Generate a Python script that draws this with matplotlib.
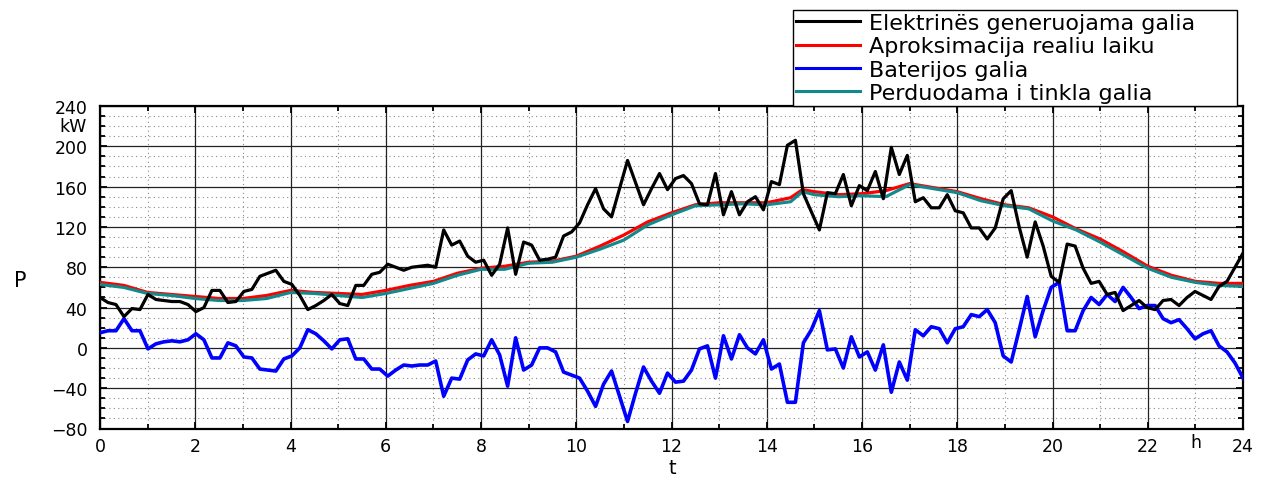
import numpy as np
import matplotlib
matplotlib.use('Agg')
import matplotlib.pyplot as plt
from matplotlib.ticker import MultipleLocator

plt.rcParams['font.family'] = ['DejaVu Sans']

# ---- data ----
n_samples = 144
sample_hours = np.linspace(0, 24, n_samples)

generated = [50, 45, 43, 31, 39, 38, 53, 48, 47, 46, 46, 43, 36, 40, 57, 57, 45, 46, 56, 58, 71,
             74, 77, 66, 63, 52, 38, 42, 47, 53, 44, 42, 62, 62, 73, 75, 83, 80, 77, 80, 81,
             82, 80, 117, 102, 106, 91, 85, 87, 72, 83, 119, 73, 105, 102, 87, 88, 90, 111, 115, 124,
             142, 158, 138, 130, 158, 186, 164, 142, 158, 173, 157, 168, 171, 163, 143, 142, 173, 132, 155, 132,
             145, 150, 137, 165, 162, 201, 206, 153, 135, 117, 154, 153, 172, 141, 161, 156, 175, 148, 199, 172,
             191, 145, 149, 139, 139, 152, 136, 134, 119, 119, 108, 119, 148, 156, 120, 90, 125, 101, 71, 65,
             103, 101, 79, 64, 66, 53, 55, 37, 42, 47, 40, 38, 47, 48, 42, 50, 56, 52, 48, 61, 66, 80, 94]

battery = [15, 17, 17, 29, 17, 17, -1, 4, 6, 7, 6, 8, 14, 8, -10, -10, 5, 2, -9, -10, -21,
           -22, -23, -11, -8, 0, 18, 14, 7, -1, 8, 9, -11, -11, -21, -21, -28, -22, -17, -18, -17,
           -17, -13, -48, -30, -31, -12, -6, -8, 8, -7, -38, 10, -22, -17, 0, 0, -4, -24, -27, -30,
           -43, -58, -36, -23, -48, -73, -45, -19, -33, -45, -25, -34, -33, -22, -1, 2, -30, 12, -11, 13,
           0, -6, 8, -21, -16, -54, -54, 5, 18, 37, -2, -1, -20, 11, -9, -4, -22, 3, -44, -14,
           -32, 18, 12, 21, 19, 5, 19, 21, 33, 31, 38, 25, -8, -14, 18, 51, 11, 37, 60, 65,
           17, 17, 37, 50, 43, 53, 46, 60, 50, 39, 42, 42, 29, 25, 28, 19, 9, 14, 17, 2, -4, -15, -30]

smooth_hours = [0, 0.5, 1, 1.5, 2, 2.5, 3, 3.5, 4, 4.5, 5, 5.5, 6, 6.5, 7, 7.5, 8, 8.5, 9, 9.5,
                10, 10.5, 11, 11.5, 12, 12.5, 13, 13.5, 14, 14.5, 14.75, 15, 15.5, 16, 16.5, 17, 17.5,
                18, 18.5, 19, 19.5, 20, 20.5, 21, 21.5, 22, 22.5, 23, 23.5, 24]

approximation = [65, 62, 55, 53, 51, 49, 49, 52, 57, 55, 54, 53, 57, 62, 66, 74, 79, 81, 85, 86,
                 91, 101, 112, 125, 134, 142, 144, 144, 144, 149, 157, 155, 152, 153, 156, 163, 159,
                 155, 148, 142, 139, 130, 118, 108, 95, 81, 72, 66, 64, 64]

grid_power = [63, 60, 54, 52, 49, 47, 47, 49, 55, 54, 52, 50, 54, 59, 64, 72, 78, 78, 84, 85,
              90, 98, 107, 122, 132, 141, 142, 143, 142, 145, 155, 152, 150, 151, 150, 162, 158,
              154, 146, 141, 138, 126, 117, 105, 92, 79, 70, 65, 62, 61]

labels = ['Elektrinës generuojama galia', 'Aproksimacija realiu laiku',
          'Baterijos galia', 'Perduodama i tinkla galia']
colors = ['#000000', '#ff0000', '#0000ff', '#12898a']

x_ticks = list(range(0, 25, 2))
y_ticks = list(range(-80, 241, 40))

# ---- figure ----
W, H = 1270, 481
fig = plt.figure(figsize=(W / 100, H / 100), dpi=100)
ax_l, ax_r, ax_t, ax_b = 100, 1243, 107, 429.5
ax = fig.add_axes([ax_l / W, 1 - ax_b / H, (ax_r - ax_l) / W, (ax_b - ax_t) / H])

lines = []
lines += ax.plot(sample_hours, generated, color=colors[0], lw=2.3, zorder=4)
lines += ax.plot(smooth_hours, approximation, color=colors[1], lw=2.3, zorder=3)
lines += ax.plot(sample_hours, battery, color=colors[2], lw=2.6, zorder=3)
lines += ax.plot(smooth_hours, grid_power, color=colors[3], lw=2.3, zorder=3)

ax.set_xlim(0, 24)
ax.set_ylim(-80, 240)
ax.set_xticks(x_ticks)
ax.set_yticks(y_ticks)
ax.xaxis.set_minor_locator(MultipleLocator(1))
ax.yaxis.set_minor_locator(MultipleLocator(10))

ax.grid(which='minor', color='#8a8a8a', linestyle=(0, (1, 3)), linewidth=0.8, zorder=0)
ax.grid(which='major', color='#222222', linestyle='-', linewidth=0.9, zorder=1)
ax.set_axisbelow(True)

ax.tick_params(which='both', direction='in', top=True, right=True, width=1.3, colors='black',
               labelsize=12.5)
ax.tick_params(which='major', length=5)
ax.tick_params(which='minor', length=3.5)
ax.tick_params(axis='y', pad=9)
ax.tick_params(axis='x', pad=6)
for s in ax.spines.values():
    s.set_linewidth(1.6)
    s.set_color('black')

# unit labels
ax.text(-13 / (ax_r - ax_l), 220, 'kW', transform=ax.get_yaxis_transform(),
        ha='right', va='center', fontsize=12.5)
ax.text(23, -14 / (ax_b - ax_t), 'h', transform=ax.get_xaxis_transform(),
        ha='center', va='center', fontsize=12.5)

fig.text(20 / W, 1 - 281 / H, 'P', ha='center', va='center', fontsize=15)
fig.text(672 / W, 1 - 469 / H, 't', ha='center', va='center', fontsize=14)

leg_x0, leg_x1, leg_y0, leg_y1 = 792.7, 1236.7, 10.7, 106
leg = fig.legend(lines, labels, loc='upper left',
                 bbox_to_anchor=(leg_x0 / W, 1 - leg_y1 / H, (leg_x1 - leg_x0) / W, (leg_y1 - leg_y0) / H),
                 mode='expand',
                 fontsize=16, frameon=True, fancybox=False, shadow=False, framealpha=1,
                 edgecolor='black', borderpad=0.15, handlelength=2.9, handletextpad=0.38,
                 labelspacing=0.15, borderaxespad=0)
leg.get_frame().set_linewidth(1.0)
for h in leg.legend_handles:
    h.set_linewidth(2.2)

fig.savefig('out.png', dpi=100)
